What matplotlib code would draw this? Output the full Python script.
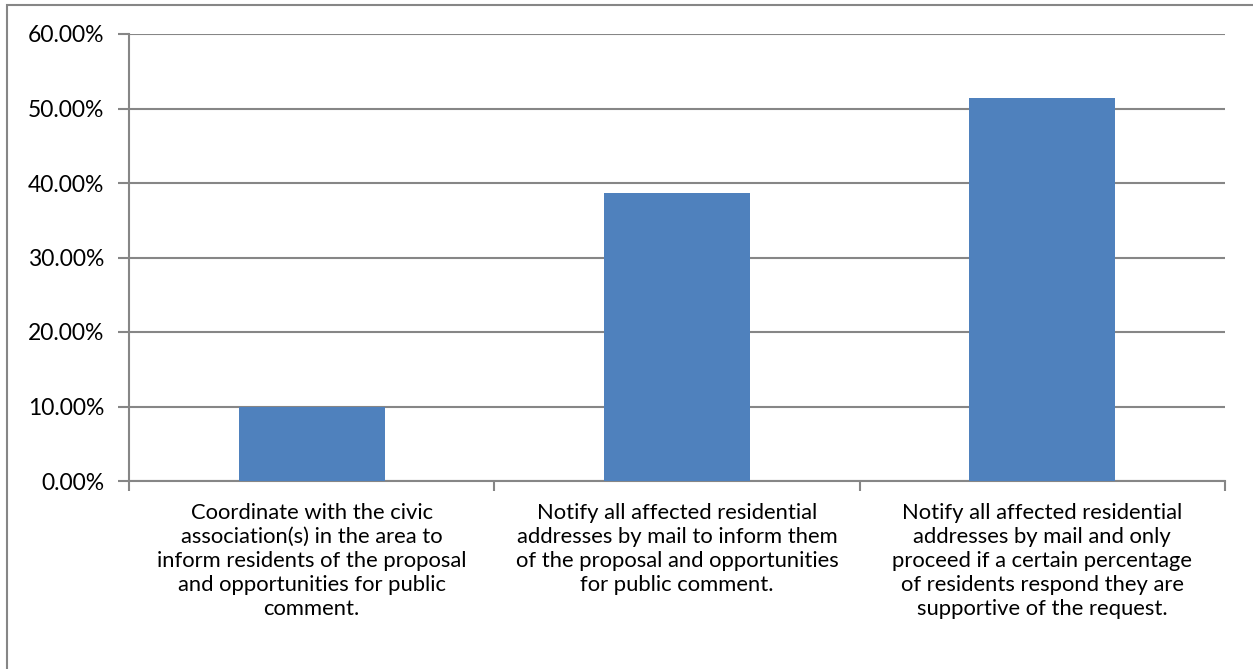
import matplotlib
matplotlib.use("Agg")
import matplotlib.pyplot as plt
from matplotlib.patches import Rectangle
from matplotlib.ticker import FuncFormatter

categories = [
    "Coordinate with the civic\nassociation(s) in the area to\ninform residents of the proposal\nand opportunities for public\ncomment.",
    "Notify all affected residential\naddresses by mail to inform them\nof the proposal and opportunities\nfor public comment.",
    "Notify all affected residential\naddresses by mail and only\nproceed if a certain percentage\nof residents respond they are\nsupportive of the request.",
]
values = [0.0993, 0.3866, 0.5140]
yticks = [0.0, 0.1, 0.2, 0.3, 0.4, 0.5, 0.6]

W, H = 1253, 669
fig = plt.figure(figsize=(W / 100, H / 100), dpi=100)
plt.rcParams['font.family'] = ['Lato', 'DejaVu Sans']
grid_c = '#868686'

ax = fig.add_axes([129 / W, 1 - 481 / H, (1225 - 129) / W, (481 - 34) / H])
x = list(range(len(categories)))
ax.bar(x, values, width=0.4, color='#4F81BD', zorder=3)
ax.set_xlim(-0.5, len(categories) - 0.5)
ax.set_ylim(0, 0.6)
ax.set_yticks(yticks)
ax.yaxis.set_major_formatter(FuncFormatter(lambda v, p: f"{v*100:.2f}%"))
ax.grid(axis='y', color=grid_c, linewidth=1.5, zorder=0)
for s in ['top', 'right']:
    ax.spines[s].set_visible(False)
for s in ['left', 'bottom']:
    ax.spines[s].set_color(grid_c)
    ax.spines[s].set_linewidth(1.5)
ax.tick_params(axis='y', length=8, width=1.5, color=grid_c, labelsize=16.5, pad=10, labelcolor='black')
ax.set_xticks(x)
ax.set_xticklabels(categories, fontsize=15.8, linespacing=1.24, va='top')
ax.tick_params(axis='x', which='major', length=0, pad=16)
ax.set_xticks([-0.5, 0.5, 1.5, 2.5], minor=True)
ax.tick_params(axis='x', which='minor', length=7, width=1.5, color=grid_c)

fig.add_artist(Rectangle((6.5 / W, -0.1), 1.2, 1 - 4.5 / H + 0.1, transform=fig.transFigure,
                         fill=False, edgecolor=grid_c, linewidth=1.5))

fig.savefig('out.png', dpi=100)
